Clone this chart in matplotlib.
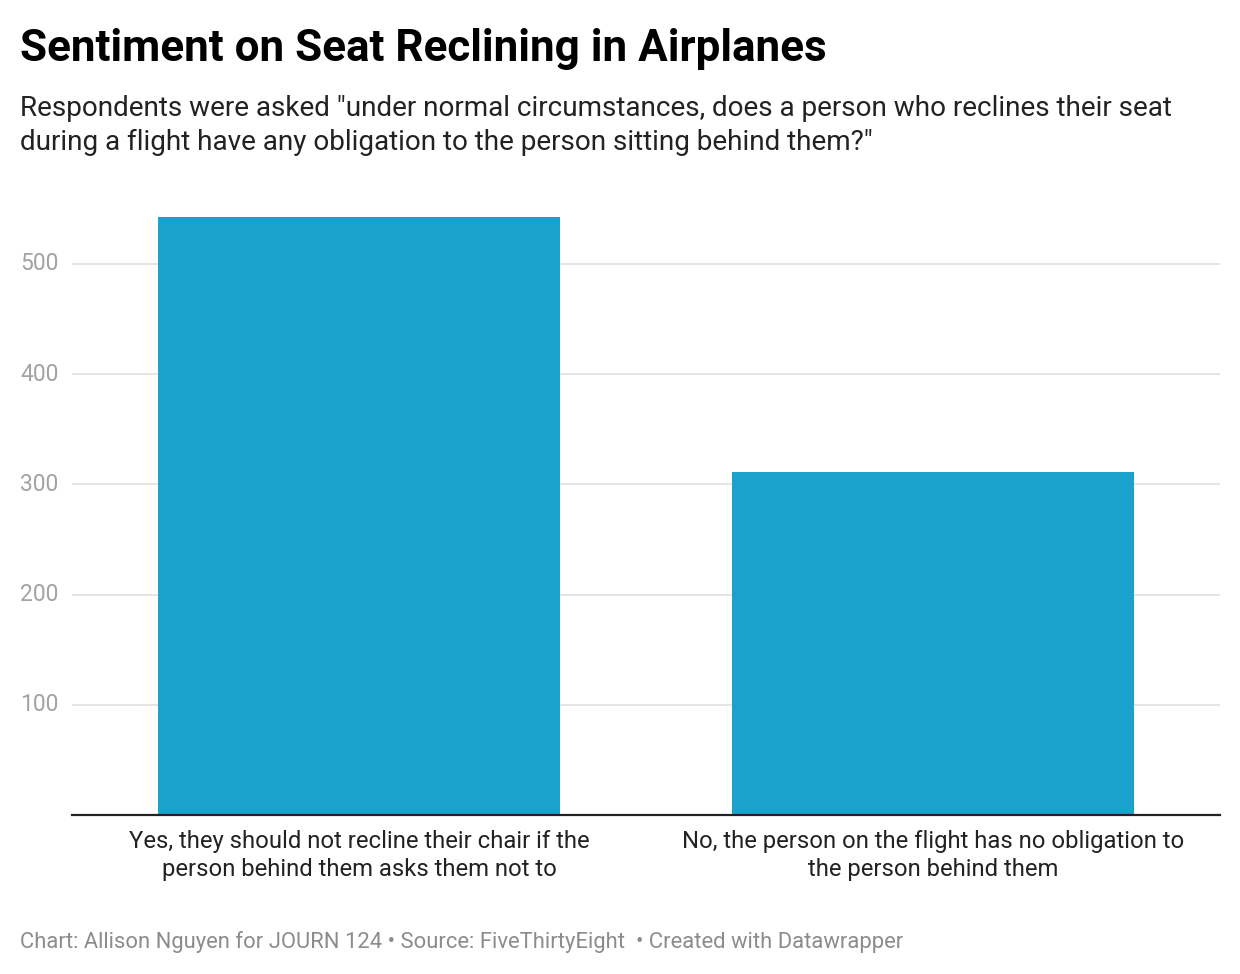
import matplotlib
matplotlib.use("Agg")
import matplotlib.pyplot as plt
from matplotlib.transforms import blended_transform_factory

categories = ["Yes, they should not recline their chair if the\nperson behind them asks them not to",
              "No, the person on the flight has no obligation to\nthe person behind them"]
values = [543, 311]
yticks = [100, 200, 300, 400, 500]

W, H = 1240, 974
fig = plt.figure(figsize=(W/100, H/100), dpi=100)
plt.rcParams['font.family'] = ['Roboto', 'DejaVu Sans']

def fx(px): return px / W
def fy(py): return 1 - py / H

ax = fig.add_axes([fx(72), fy(815), fx(1220) - fx(72), (815 - 200) / H])
ax.set_xlim(-0.5, 1.5)
ax.set_ylim(0, 615 / 1.102)
ax.bar(range(len(values)), values, width=0.7, color="#1aa1cc", zorder=2)
for s in ["top", "right", "left"]:
    ax.spines[s].set_visible(False)
ax.spines["bottom"].set_color("#222222")
ax.spines["bottom"].set_linewidth(1.6)
ax.spines["bottom"].set_zorder(3)
ax.set_yticks(yticks)
ax.set_yticklabels([])
ax.tick_params(axis="y", length=0)
ax.grid(axis="y", color="#e0e0e0", linewidth=1.2, zorder=0)
ax.set_xticks([])

trans_y = blended_transform_factory(fig.transFigure, ax.transData)
for t in yticks:
    ax.text(fx(20), t, str(t), transform=trans_y, ha="left", va="center",
            fontsize=16.5, color="#a3a3a3")

trans_x = blended_transform_factory(ax.transData, fig.transFigure)
for i, c in enumerate(categories):
    ax.text(i, fy(830), c, transform=trans_x, ha="center", va="top", fontsize=17.2,
            color="#222222", linespacing=1.3)

fig.text(fx(20), fy(61), "Sentiment on Seat Reclining in Airplanes", fontsize=31.7,
         fontweight="bold", color="#000000", ha="left", va="baseline")
fig.text(fx(20), fy(116), 'Respondents were asked "under normal circumstances, does a person who reclines their seat',
         fontsize=20.1, color="#222222", ha="left", va="baseline")
fig.text(fx(20), fy(150), 'during a flight have any obligation to the person sitting behind them?"',
         fontsize=20.1, color="#222222", ha="left", va="baseline")
fig.text(fx(20), fy(948), "Chart: Allison Nguyen for JOURN 124 \u2022 Source: FiveThirtyEight  \u2022 Created with Datawrapper",
         fontsize=15.8, color="#8c8c8c", ha="left", va="baseline")

fig.savefig("out.png", dpi=100, facecolor="white")
